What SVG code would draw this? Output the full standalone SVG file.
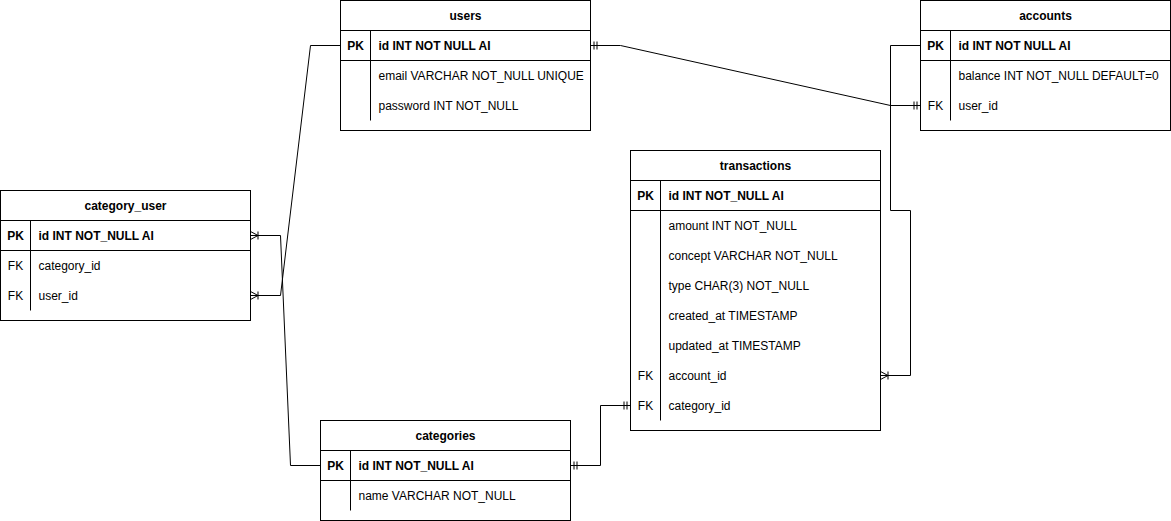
<svg xmlns="http://www.w3.org/2000/svg" width="1171" height="521" viewBox="0 0 1171 521">
<style>
.box{fill:#fff;stroke:#000;stroke-width:1}
.ln{fill:none;stroke:#000;stroke-width:1}
.t{font-family:"Liberation Sans",Arial,sans-serif;font-size:12px;fill:#000}
.b{font-weight:bold}
.c{text-anchor:middle}
.edge{fill:none;stroke:#000;stroke-width:1}
</style>
<defs>
<marker id="mandOne" markerUnits="userSpaceOnUse" orient="auto-start-reverse" markerWidth="20" markerHeight="20" viewBox="-10 -10 20 20" refX="0" refY="0" overflow="visible">
<path d="M-3.5,-4V4M-6.5,-4V4" fill="none" stroke="#000" stroke-width="1"/>
</marker>
<marker id="oneMany" markerUnits="userSpaceOnUse" orient="auto-start-reverse" markerWidth="20" markerHeight="20" viewBox="-10 -10 20 20" refX="0" refY="0" overflow="visible">
<path d="M0,-4L-7.5,0L0,4M-7.5,-4V4" fill="none" stroke="#000" stroke-width="1"/>
</marker>
</defs>
<g transform="translate(0.5,0.5)">
<g id="connectors">
<path class="edge" d="M340,45H310L280,295H250" marker-end="url(#oneMany)"/>
<path class="edge" d="M320,465H290L280,235H250" marker-end="url(#oneMany)"/>
<path class="edge" d="M590,45H620L890,105H920" marker-start="url(#mandOne)" marker-end="url(#mandOne)"/>
<path class="edge" d="M920,45H890V210H910V375H880" marker-end="url(#oneMany)"/>
<path class="edge" d="M570,465H600V405H630" marker-start="url(#mandOne)" marker-end="url(#mandOne)"/>
</g>
<g id="users">
<rect class="box" x="340" y="0" width="250" height="130"/>
<path class="ln" d="M340,30H590M340,60H590M370,30V120"/>
<text class="t b c" x="465" y="19">users</text>
<text class="t b c" x="355" y="49">PK</text>
<text class="t b" x="378" y="49">id INT NOT NULL AI</text>
<text class="t" x="378" y="79">email VARCHAR NOT_NULL UNIQUE</text>
<text class="t" x="378" y="109">password INT NOT_NULL</text>
</g>
<g id="accounts">
<rect class="box" x="920" y="0" width="250" height="130"/>
<path class="ln" d="M920,30H1170M920,60H1170M950,30V120"/>
<text class="t b c" x="1045" y="19">accounts</text>
<text class="t b c" x="935" y="49">PK</text>
<text class="t b" x="958" y="49">id INT NOT NULL AI</text>
<text class="t" x="958" y="79">balance INT NOT_NULL DEFAULT=0</text>
<text class="t c" x="935" y="109">FK</text>
<text class="t" x="958" y="109">user_id</text>
</g>
<g id="transactions">
<rect class="box" x="630" y="150" width="250" height="280"/>
<path class="ln" d="M630,180H880M630,210H880M660,180V420"/>
<text class="t b c" x="755" y="169">transactions</text>
<text class="t b c" x="645" y="199">PK</text>
<text class="t b" x="668" y="199">id INT NOT_NULL AI</text>
<text class="t" x="668" y="229">amount INT NOT_NULL</text>
<text class="t" x="668" y="259">concept VARCHAR NOT_NULL</text>
<text class="t" x="668" y="289">type CHAR(3) NOT_NULL</text>
<text class="t" x="668" y="319">created_at TIMESTAMP</text>
<text class="t" x="668" y="349">updated_at TIMESTAMP</text>
<text class="t c" x="645" y="379">FK</text>
<text class="t" x="668" y="379">account_id</text>
<text class="t c" x="645" y="409">FK</text>
<text class="t" x="668" y="409">category_id</text>
</g>
<g id="category_user">
<rect class="box" x="0" y="190" width="250" height="130"/>
<path class="ln" d="M0,220H250M0,250H250M30,220V310"/>
<text class="t b c" x="125" y="209">category_user</text>
<text class="t b c" x="15" y="239">PK</text>
<text class="t b" x="38" y="239">id INT NOT_NULL AI</text>
<text class="t c" x="15" y="269">FK</text>
<text class="t" x="38" y="269">category_id</text>
<text class="t c" x="15" y="299">FK</text>
<text class="t" x="38" y="299">user_id</text>
</g>
<g id="categories">
<rect class="box" x="320" y="420" width="250" height="100"/>
<path class="ln" d="M320,450H570M320,480H570M350,450V510"/>
<text class="t b c" x="445" y="439">categories</text>
<text class="t b c" x="335" y="469">PK</text>
<text class="t b" x="358" y="469">id INT NOT_NULL AI</text>
<text class="t" x="358" y="499">name VARCHAR NOT_NULL</text>
</g>
</g>
</svg>
